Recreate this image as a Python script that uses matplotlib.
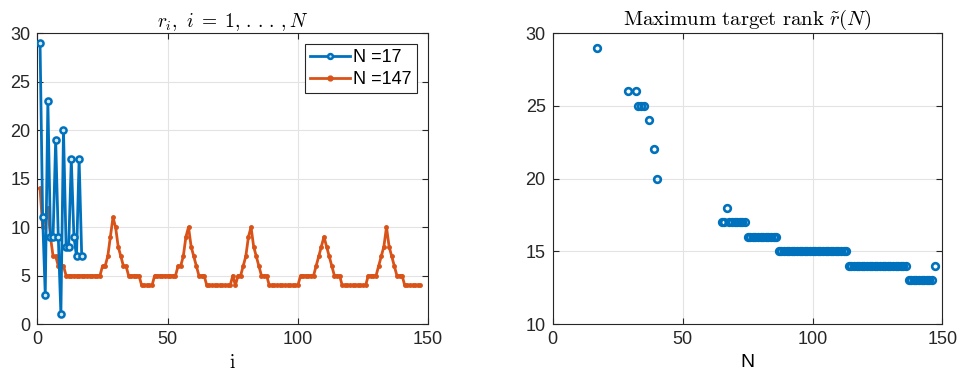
import matplotlib
matplotlib.use("Agg")
import matplotlib.pyplot as plt

plt.rcParams['font.family'] = ['Liberation Sans', 'DejaVu Sans']
plt.rcParams['mathtext.fontset'] = 'cm'

# r_i for N = 17
r17 = [29, 11, 3, 23, 9, 9, 19, 9, 1, 20, 8, 8, 17, 9, 7, 17, 7]

# r_i for N = 147
r147 = [14, 10, 11, 12, 9, 7, 7, 6, 6, 6,
        5, 5, 5, 5, 5, 5, 5, 5, 5, 5, 5, 5, 5, 5,
        6, 6, 7, 9, 11, 10, 8, 7, 6, 6,
        5, 5, 5, 5, 5,
        4, 4, 4, 4, 4,
        5, 5, 5, 5, 5, 5, 5, 5, 5,
        6, 6, 7, 9, 10, 8, 7, 6,
        5, 5, 5,
        4, 4, 4, 4, 4, 4, 4, 4, 4, 4,
        5, 4, 5, 5, 6, 7, 9, 10, 8, 7, 6,
        5, 5, 5,
        4, 4, 4, 4, 4, 4, 4, 4, 4, 4, 4, 4,
        5, 5, 5, 5, 5, 5,
        6, 7, 8, 9, 8, 7, 6,
        5, 5, 5,
        4, 4, 4, 4, 4, 4, 4, 4, 4, 4,
        5, 5, 5, 5,
        6, 7, 8, 10, 8, 7, 6,
        5, 5, 5,
        4, 4, 4, 4, 4, 4, 4]

# maximum target rank vs N
N_vals = [17, 29, 32, 33, 34, 35, 37, 39, 40] + list(range(65, 148))
max_rank = ([29, 26, 26, 25, 25, 25, 24, 22, 20]
            + [17, 17, 18, 17, 17, 17, 17, 17, 17, 17]
            + [16, 16, 16, 16, 16, 16, 16, 16, 16, 16, 16, 16]
            + [15, 15, 15, 15, 15, 15, 15, 15, 15, 15, 15, 15, 15, 15,
               15, 15, 15, 15, 15, 15, 15, 15, 15, 15, 15, 15, 15]
            + [14, 14, 14, 14, 14, 14, 14, 14, 14, 14, 14, 14, 14, 14,
               14, 14, 14, 14, 14, 14, 14, 14, 14]
            + [13, 13, 13, 13, 13, 13, 13, 13, 13, 13]
            + [14])

blue = '#0072BD'
orange = '#D95319'

fig = plt.figure(figsize=(9.6, 3.8), dpi=100)
ax1 = fig.add_axes([0.039, 0.147, 0.407, 0.766])
ax2 = fig.add_axes([0.5757, 0.147, 0.406, 0.766])

i17 = range(1, len(r17) + 1)
i147 = range(1, len(r147) + 1)
ax1.plot(i17, r17, ls='-', marker='o', color=blue, lw=2, ms=4.4, mew=1.8,
         mfc='#d6e8f5', label='N =17', zorder=3)
ax1.plot(i147, r147, ls='-', marker='.', color=orange, lw=2, ms=5,
         label='N =147', zorder=2)
ax1.set_xlim(0, 150)
ax1.set_ylim(0, 30)
ax1.set_xticks([0, 50, 100, 150])
ax1.set_yticks([0, 5, 10, 15, 20, 25, 30])
ax1.set_title(r'$r_i,\ i\;=\;1,\,.\,.\,.\,,N$', fontsize=14, pad=4)
ax1.set_xlabel(r'$\mathrm{i}$', fontsize=14, labelpad=4)
leg = ax1.legend(loc='upper right', fontsize=13, fancybox=False, framealpha=1,
                 edgecolor='#262626', handlelength=2.2, borderpad=0.3,
                 borderaxespad=0.6, labelspacing=0.25, handletextpad=0.2)
leg.get_frame().set_linewidth(0.8)
for h in leg.get_lines():
    h.set_marker('.')
    h.set_markersize(7)

ax2.plot(N_vals, max_rank, ls='none', marker='o', color=blue, mfc='none',
         mew=1.9, ms=4.8)
ax2.set_xlim(0, 150)
ax2.set_ylim(10, 30)
ax2.set_xticks([0, 50, 100, 150])
ax2.set_yticks([10, 15, 20, 25, 30])
ax2.set_title(r'$\mathrm{Maximum\ target\ rank}\ \tilde{r}(N)$', fontsize=15, pad=6)
ax2.set_xlabel('N', fontsize=14, labelpad=4)

for ax in (ax1, ax2):
    ax.grid(True, color='#e3e3e3', lw=0.8)
    ax.set_axisbelow(True)
    ax.tick_params(direction='in', top=True, right=True, labelsize=13,
                   length=4, width=0.8, colors='#262626', pad=5)
    for s in ax.spines.values():
        s.set_color('#262626')
        s.set_linewidth(0.8)

fig.savefig('out.png', dpi=100)
